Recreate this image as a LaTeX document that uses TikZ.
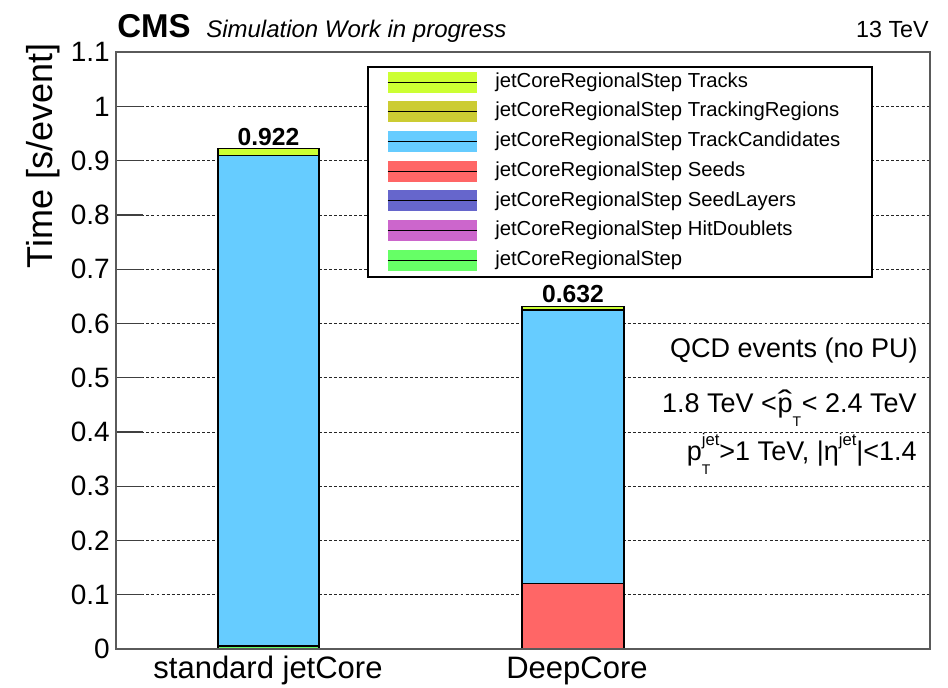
\documentclass[tikz,border=0pt]{standalone}
\usepackage{fontspec}
\setmainfont{Liberation Sans}
\usepackage{graphicx}

% stack colours
\definecolor{cTracks}{RGB}{204,255,51}
\definecolor{cRegions}{RGB}{204,204,51}
\definecolor{cCands}{RGB}{102,204,255}
\definecolor{cSeeds}{RGB}{255,102,102}
\definecolor{cLayers}{RGB}{102,102,204}
\definecolor{cDoublets}{RGB}{204,102,204}
\definecolor{cStep}{RGB}{102,255,102}
\definecolor{frameGray}{RGB}{90,90,90}

% text helpers
\newcommand\hatp{\ooalign{p\cr\hidewidth\raisebox{0.02em}{\scalebox{1.6}[1.1]{\char"02C6}}\hidewidth\cr}}
\newcommand\lowT{\raisebox{-0.52em}{\fontsize{10.5}{12}\selectfont T}}
\newcommand\upjet{\raisebox{0.55em}{\fontsize{12.5}{14}\selectfont jet}}
% one stacked layer: x0, x1, v0, v1, colour
\newcommand\stacklayer[5]{\filldraw[fill=#5, draw=black, line width=0.8pt] (#1,{649-542.4*#3}) rectangle (#2,{649-542.4*#4});}

\begin{document}
\begin{tikzpicture}[x=0.75pt, y=-0.75pt,
  gridline/.style={black!85, line width=0.6pt, dash pattern=on 2.2pt off 1.6pt},
  ticklabel/.style={anchor=east, inner sep=0pt, font=\fontsize{21}{24}\selectfont},
  swatch/.style={minimum width=66.75pt, minimum height=15.75pt, inner sep=0pt},
  legtext/.style={anchor=west, inner sep=0pt, font=\fontsize{15.2}{18}\selectfont},
  infotext/.style={anchor=base east, inner sep=0pt, font=\fontsize{20.25}{24}\selectfont},
  barvalue/.style={anchor=base, inner sep=0pt, font=\fontsize{18.5}{22}\selectfont\bfseries},
  binlabel/.style={anchor=base, inner sep=0pt, font=\fontsize{23.25}{27}\selectfont}]
\useasboundingbox (0,0) rectangle (948,687);
\fill[white] (0,0) rectangle (948,687);

% grid lines and y ticks
\foreach \v in {0.1,0.2,...,1.05} {
  \draw[gridline] (116,{649-542.4*\v}) -- (930,{649-542.4*\v});
}
\foreach \v/\t in {0/0,0.1/0.1,0.2/0.2,0.3/0.3,0.4/0.4,0.5/0.5,0.6/0.6,0.7/0.7,0.8/0.8,0.9/0.9,1.0/1,1.1/1.1} {
  \draw[black!75, line width=0.9pt] (116,{649-542.4*\v}) -- (143,{649-542.4*\v});
  \node[ticklabel] (tick\t) at (110,{649-542.4*\v}) {\t};
}

% standard jetCore stack
\stacklayer{218}{319}{0}{0.004}{cStep}
\stacklayer{218}{319}{0.004}{0.0055}{cDoublets}
\stacklayer{218}{319}{0.0055}{0.007}{cSeeds}
\stacklayer{218}{319}{0.007}{0.910}{cCands}
\stacklayer{218}{319}{0.910}{0.922}{cTracks}
% DeepCore stack
\fill[cStep] (522,649) rectangle (624,647);
\stacklayer{522}{624}{0.001}{0.121}{cSeeds}
\stacklayer{522}{624}{0.121}{0.625}{cCands}
\stacklayer{522}{624}{0.625}{0.632}{cTracks}

% totals on top of the bars
\node[barvalue] (tot1) at (268.5,145) {0.922};
\node[barvalue] (tot2) at (573,302) {0.632};

% legend
\filldraw[fill=white, draw=black, line width=0.9pt] (368,67) rectangle (872,277);
\foreach \i/\c/\lab in {0/cTracks/jetCoreRegionalStep Tracks,
                        1/cRegions/jetCoreRegionalStep TrackingRegions,
                        2/cCands/jetCoreRegionalStep TrackCandidates,
                        3/cSeeds/jetCoreRegionalStep Seeds,
                        4/cLayers/jetCoreRegionalStep SeedLayers,
                        5/cDoublets/jetCoreRegionalStep HitDoublets,
                        6/cStep/jetCoreRegionalStep} {
  \node[swatch, fill=\c] (sw\i) at (432.5,{82+29.7*\i}) {};
  \draw[black, line width=0.7pt] (sw\i.west) -- (sw\i.east);
  \node[legtext] (lt\i) at (495,{82+29.7*\i}) {\lab};
}

% frame
\draw[frameGray, line width=1.4pt] (116,52.4) rectangle (930,649);

% selection text
\node[infotext] (info1) at (918,357) {QCD events (no PU)};
\node[infotext] (info2) at (917,412) {1.8 TeV <\kern0.5pt\hatp\lowT\kern0.5pt< 2.4 TeV};
\node[infotext] (info3) at (917,460) {p\makebox[0pt][l]{\lowT}\upjet>1 TeV, |η\upjet|<1.4};

% header
\node[anchor=base west, inner sep=0pt, font=\fontsize{24.75}{28}\selectfont\bfseries] (cms) at (117,37) {CMS};
\node[anchor=base west, inner sep=0pt, font=\fontsize{18}{22}\selectfont\itshape] (status) at (206,37) {Simulation Work in progress};
\node[anchor=base east, inner sep=0pt, font=\fontsize{17.5}{21}\selectfont] (energy) at (929,37) {13 TeV};

% axis titles and bin labels
\node[rotate=90, anchor=east, inner sep=0pt, font=\fontsize{27}{30}\selectfont] (ytitle) at (43,43) {Time [s/event]};
\node[binlabel] (bin1) at (268,678) {standard jetCore};
\node[binlabel] (bin2) at (577,678) {DeepCore};
\end{tikzpicture}
\end{document}
